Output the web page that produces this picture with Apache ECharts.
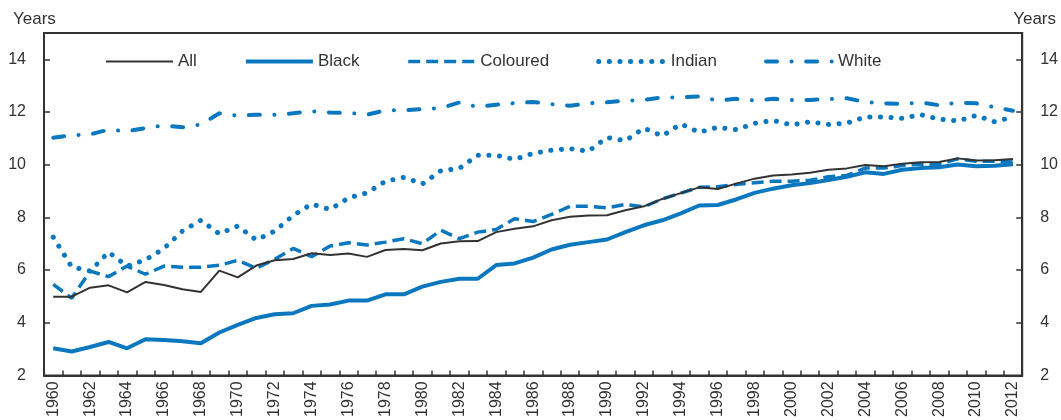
<!DOCTYPE html>
<html>
<head>
<meta charset="utf-8">
<script src="https://cdn.jsdelivr.net/npm/echarts@6/dist/echarts.min.js"></script>
<style>
html,body{margin:0;padding:0;background:#fff;}
#chart{width:1061px;height:420px;}
</style>
</head>
<body>
<div id="chart"></div>
<script>
var years = [];
for (var y = 1960; y <= 2012; y++) years.push(String(y));

var seriesNames = ['All', 'Black', 'Coloured', 'Indian', 'White'];

var allPop = [4.99,4.99,5.33,5.42,5.15,5.55,5.43,5.27,5.17,5.98,
  5.72,6.17,6.37,6.42,6.64,6.57,6.63,6.50,6.76,6.80,
  6.75,7.01,7.09,7.10,7.44,7.57,7.66,7.89,8.02,8.07,
  8.08,8.27,8.42,8.70,8.92,9.14,9.08,9.28,9.47,9.59,
  9.63,9.69,9.81,9.86,9.99,9.94,10.04,10.09,10.10,10.24,
  10.16,10.17,10.22];

var black = [3.03,2.91,3.08,3.27,3.03,3.37,3.34,3.30,3.22,3.63,
  3.92,4.18,4.32,4.36,4.64,4.69,4.84,4.84,5.08,5.08,
  5.37,5.55,5.67,5.67,6.19,6.25,6.47,6.78,6.96,7.06,
  7.16,7.44,7.70,7.89,8.15,8.45,8.47,8.68,8.93,9.09,
  9.22,9.30,9.42,9.54,9.71,9.65,9.81,9.87,9.90,10.01,
  9.94,9.96,10.02];

var coloured = [5.46,4.93,5.96,5.75,6.15,5.84,6.15,6.11,6.11,6.18,
  6.37,6.07,6.41,6.82,6.51,6.91,7.04,6.95,7.06,7.19,
  7.00,7.51,7.19,7.44,7.54,7.95,7.84,8.11,8.42,8.42,
  8.36,8.49,8.40,8.70,8.92,9.14,9.16,9.25,9.31,9.37,
  9.37,9.41,9.54,9.59,9.87,9.87,9.97,10.02,10.02,10.22,
  10.13,10.13,10.10];

var indian = [7.25,6.12,5.96,6.68,6.15,6.39,6.82,7.48,7.89,7.38,
  7.67,7.14,7.48,8.07,8.51,8.30,8.74,8.93,9.37,9.52,
  9.27,9.77,9.86,10.36,10.36,10.20,10.43,10.55,10.61,10.51,
  11.03,10.91,11.39,11.09,11.55,11.23,11.42,11.33,11.57,11.68,
  11.51,11.63,11.53,11.58,11.81,11.81,11.76,11.90,11.73,11.66,
  11.87,11.63,11.81];

var white = [11.02,11.12,11.15,11.33,11.27,11.39,11.49,11.42,11.53,11.95,
  11.86,11.90,11.90,11.95,12.03,11.98,11.97,11.90,12.06,12.07,
  12.11,12.15,12.36,12.19,12.28,12.34,12.38,12.30,12.24,12.33,
  12.37,12.43,12.46,12.55,12.56,12.59,12.43,12.50,12.44,12.50,
  12.46,12.46,12.49,12.52,12.38,12.33,12.31,12.36,12.26,12.36,
  12.33,12.18,12.05];

var yTicks = { min: 2, max: 15, interval: 2 };

var BLUE = '#0a77bf';
var DARK = '#333333';
var sans = '"Liberation Sans", Arial, sans-serif';

function yAxisDef(pos) {
  return {
    type: 'value',
    position: pos,
    min: yTicks.min, max: yTicks.max, interval: yTicks.interval,
    axisLine: { show: true, lineStyle: { color: DARK, width: 2 } },
    axisTick: { show: true, inside: true, length: 6, lineStyle: { color: DARK, width: 1.5 } },
    axisLabel: { show: true, margin: 18, color: DARK, fontSize: 16, fontFamily: sans, showMaxLabel: false },
    splitLine: { show: false }
  };
}

var chart = echarts.init(document.getElementById('chart'), null, { renderer: 'canvas' });
chart.setOption({
  animation: false,
  backgroundColor: '#ffffff',
  title: [
    { text: 'Years', left: 8, top: 6, textStyle: { fontFamily: sans, fontSize: 17, fontWeight: 'normal', color: DARK } },
    { text: 'Years', right: 0, top: 6, textStyle: { fontFamily: sans, fontSize: 17, fontWeight: 'normal', color: DARK } }
  ],
  legend: {
    data: seriesNames,
    left: 100, top: 48,
    itemWidth: 67, itemHeight: 18, itemGap: 47,
    itemStyle: { opacity: 0 },
    lineStyle: { width: 'inherit' },
    textStyle: { fontFamily: sans, fontSize: 17, color: DARK }
  },
  grid: { left: 44, right: 36, top: 33, bottom: 44, show: true, borderColor: DARK, borderWidth: 2, containLabel: false },
  xAxis: {
    type: 'category',
    data: years,
    boundaryGap: true,
    axisLine: { show: true, lineStyle: { color: DARK, width: 2 } },
    axisTick: { show: true, inside: true, length: 5, interval: 0, lineStyle: { color: DARK, width: 1.5 } },
    axisLabel: { interval: 1, rotate: 90, margin: 6, color: DARK, fontSize: 16, fontFamily: sans },
    splitLine: { show: false }
  },
  yAxis: [yAxisDef('left'), yAxisDef('right')],
  series: [
    { name: 'All', type: 'line', data: allPop, symbol: 'none', z: 5,
      lineStyle: { color: DARK, width: 2 }, itemStyle: { color: DARK } },
    { name: 'Black', type: 'line', data: black, symbol: 'none', z: 4,
      lineStyle: { color: BLUE, width: 4 }, itemStyle: { color: BLUE } },
    { name: 'Coloured', type: 'line', data: coloured, symbol: 'none', z: 3,
      lineStyle: { color: BLUE, width: 3.5, type: [12, 6], cap: 'butt' }, itemStyle: { color: BLUE } },
    { name: 'Indian', type: 'line', data: indian, symbol: 'none', z: 3,
      lineStyle: { color: BLUE, width: 5, type: [0.1, 10.5], cap: 'round' }, itemStyle: { color: BLUE } },
    { name: 'White', type: 'line', data: white, symbol: 'none', z: 3,
      lineStyle: { color: BLUE, width: 4, type: [11, 14.5, 0.1, 14.5], cap: 'round' }, itemStyle: { color: BLUE } }
  ]
});
</script>
</body>
</html>
